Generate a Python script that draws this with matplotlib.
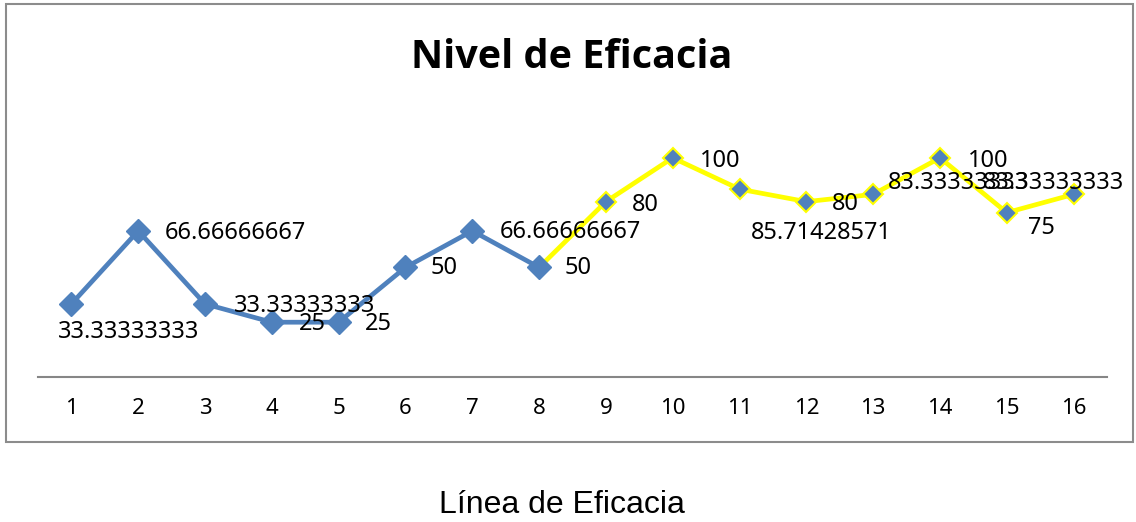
import matplotlib.pyplot as plt
from matplotlib.patches import Rectangle

# data
lines = [str(i) for i in range(1, 17)]
eficacia = [33.33333333, 66.66666667, 33.33333333, 25, 25, 50, 66.66666667, 50,
            80, 100, 85.71428571, 80, 83.33333333, 100, 75, 83.33333333]
split = 8  # first 8 points blue, rest drawn in yellow

BLUE = '#4F81BD'
YELLOW = '#FFFF00'

# label placement (pixel offsets from each point, alignment)
label_offsets = [(57, 28, 'center'), (27, 2, 'left'), (29, 2, 'left'), (27, 2, 'left'),
                 (26, 2, 'left'), (25, 1, 'left'), (27, 1, 'left'), (25, 1, 'left'),
                 (26, 3, 'left'), (27, 3, 'left'), (82, 44, 'center'), (26, 2, 'left'),
                 (15, -11, 'left'), (28, 3, 'left'), (21, 15, 'left'), (-91, -11, 'left')]

fig = plt.figure(figsize=(11.36, 5.22), dpi=100)
W, H = 1136, 522

# outer chart border
fig.patches.append(Rectangle((6 / W, 1 - 442 / H), 1127 / W, 438 / H,
                             transform=fig.transFigure, fill=False,
                             edgecolor='#8c8c8c', linewidth=1.5))

ax = fig.add_axes([38 / W, 1 - 377 / H, 1069 / W, 263 / H])
x = list(range(1, 17))

ax.plot(x[:split], eficacia[:split], color=BLUE, lw=3.4, marker='D',
        ms=12, mfc=BLUE, mec=BLUE, zorder=3)
ax.plot(x[split - 1:], eficacia[split - 1:], color=YELLOW, lw=3.4, zorder=2)
ax.plot(x[split:], eficacia[split:], ls='none', marker='D', ms=10.5,
        mfc=BLUE, mec=YELLOW, mew=1.5, zorder=4)

for xi, v, (dx, dy, ha) in zip(x, eficacia, label_offsets):
    txt = f'{v:.8f}'.rstrip('0').rstrip('.')
    ax.annotate(txt, (xi, v), xytext=(dx, -dy), textcoords='offset pixels',
                ha=ha, va='center', fontsize=17, family='Noto Sans', zorder=5)

ax.set_xlim(0.5, 16.5)
ax.set_ylim(0, 120)
ax.set_xticks(x)
ax.set_xticklabels(lines, fontsize=16, family='Noto Sans')
ax.tick_params(axis='x', length=0, pad=15)
ax.set_yticks([])
for s in ['top', 'right', 'left']:
    ax.spines[s].set_visible(False)
ax.spines['bottom'].set_color('#868686')
ax.spines['bottom'].set_linewidth(1.5)

fig.text(572 / W, 1 - 57 / H, 'Nivel de Eficacia', ha='center', va='center',
         fontsize=28.5, fontweight='bold', family='Open Sans')
fig.text(562 / W, 1 - 505 / H, 'Línea de Eficacia', ha='center', va='center',
         fontsize=23, family='Liberation Sans')

fig.savefig('out.png', dpi=100)
